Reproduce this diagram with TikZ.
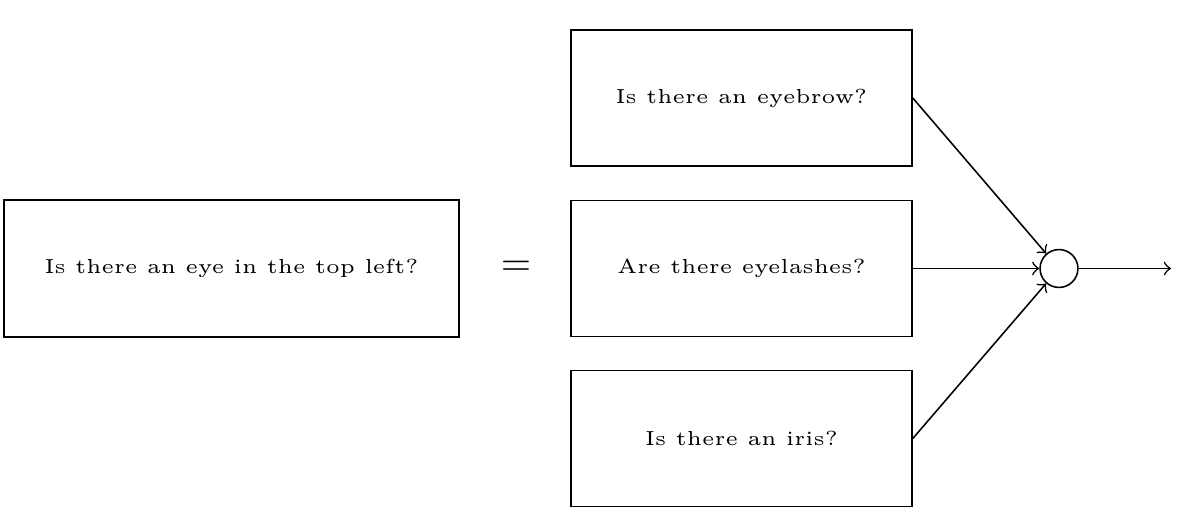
\documentclass[tikz,border=0pt]{standalone}
\begin{document}
\begin{tikzpicture}[x=0.256pt,y=-0.256pt,
  qbox/.style={draw,line width=0.4pt,inner sep=0pt,font=\fontsize{5.2pt}{6pt}\selectfont},
  lbox/.style={qbox,minimum width=116.5pt,minimum height=35.07pt},
  rbox/.style={qbox,minimum width=87.3pt,minimum height=34.8pt},
  sumc/.style={draw,line width=0.4pt,circle,inner sep=0pt,minimum size=9.7pt},
  conn/.style={->,line width=0.4pt}]
\useasboundingbox (0,0) rectangle (1188,526);
\node[lbox] (q) at (231.5,268.5) {Is there an eye in the top left?};
\node (eq) at (516,268) {$=$};
\node[rbox] (a) at (741.5,98) {Is there an eyebrow?};
\node[rbox] (b) at (741.5,268.5) {Are there eyelashes?};
\node[rbox] (c) at (741.5,438.5) {Is there an iris?};
\node[sumc] (s) at (1059,268.5) {};
\coordinate (out) at (1171,268.5);
\draw[conn] (a.east) -- (s);
\draw[conn] (b.east) -- (s);
\draw[conn] (c.east) -- (s);
\draw[conn] (s) -- (out);
\end{tikzpicture}
\end{document}
